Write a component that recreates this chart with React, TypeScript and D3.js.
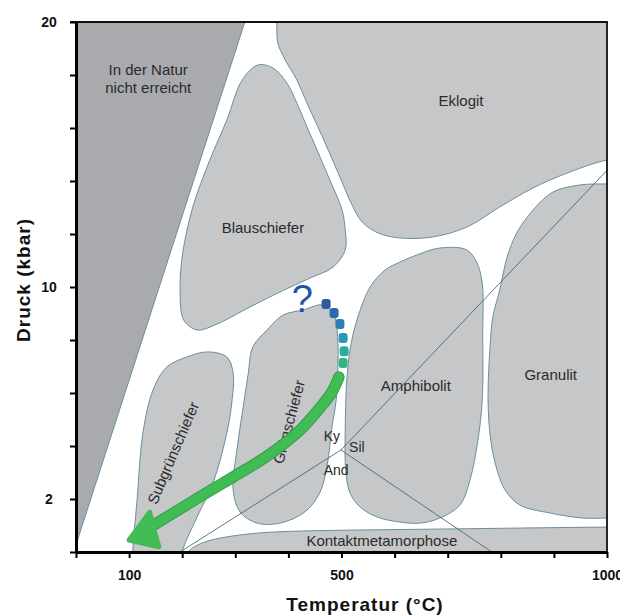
import { useEffect, useRef } from "react";
import * as d3 from "d3";

type Pt = [number, number];

// axis ticks
const xTicks = [0, 100, 200, 300, 400, 500, 600, 700, 800, 900, 1000];
const xLabels = [100, 500, 1000];
const yTicks = [0, 2, 4, 6, 8, 10, 12, 14, 16, 18, 20];
const yLabels = [2, 10, 20];

// facies fields, [temperature °C, pressure kbar]
const nichtErreicht: Pt[] = [[0, 20], [318, 20], [2, 0.4], [0, 0.4]];

const blauschiefer: Pt[] = [
  [343, 18.38], [371, 18.26], [397, 17.7], [416, 16.94], [435, 16.04], [454, 15.17],
  [478, 14.04], [501, 12.91], [507, 12.15], [507, 11.4], [484, 10.75], [441, 10.34],
  [384, 9.81], [328, 9.25], [262, 8.57], [228, 8.38], [203, 8.75], [196, 9.89],
  [201, 11.28], [220, 13.02], [252, 14.79], [284, 16.3], [313, 17.81],
];

const eklogit: Pt[] = [
  [375, 20.83], [1062, 20.83], [1062, 14.87], [1000, 14.79], [925, 14.3], [861, 13.74],
  [798, 13.02], [736, 12.26], [672, 11.89], [610, 11.85], [569, 12.04], [539, 12.45],
  [520, 13.09], [497, 14.15], [475, 15.17], [454, 16.11], [435, 16.94], [416, 17.81],
  [394, 18.57], [380, 19.21], [378, 20.0],
];

const granulit: Pt[] = [
  [1062, 13.89], [1000, 13.89], [949, 13.85], [898, 13.58], [861, 12.91], [830, 12.04],
  [812, 11.13], [798, 9.89], [785, 8.87], [780, 7.81], [776, 5.74], [781, 4.23],
  [793, 3.09], [808, 2.34], [836, 1.77], [893, 1.47], [955, 1.28], [1000, 1.28], [1062, 1.28],
];

const amphibolit: Pt[] = [
  [554, 10.0], [582, 10.64], [610, 10.94], [642, 11.21], [685, 11.47], [736, 11.4],
  [755, 10.91], [765, 10.15], [766, 8.26], [765, 5.74], [757, 4.23], [742, 2.72],
  [723, 1.77], [685, 1.28], [648, 1.09], [610, 1.13], [567, 1.32], [535, 1.7],
  [516, 2.23], [508, 3.09], [507, 4.6], [510, 6.49], [516, 7.62], [529, 8.75],
];

const gruenschiefer: Pt[] = [
  [333, 7.74], [360, 8.38], [390, 8.94], [427, 9.13], [465, 9.32], [486, 8.94],
  [493, 8.0], [493, 6.87], [490, 5.74], [482, 4.72], [473, 3.28], [459, 2.23],
  [431, 1.51], [384, 1.09], [341, 1.09], [309, 1.51], [296, 2.34], [303, 3.85],
  [314, 5.36], [324, 6.68],
];

const subgruenschiefer: Pt[] = [
  [107, -0.3], [107, 0.08], [115, 1.96], [126, 4.49], [145, 6.11], [171, 6.98],
  [209, 7.36], [247, 7.55], [284, 7.36], [296, 6.75], [294, 5.74], [284, 4.49],
  [258, 2.6], [228, 1.32], [200, 0], [200, -0.3],
];

const kontakt: Pt[] = [
  [205, -0.3], [215, 0.08], [243, 0.38], [284, 0.57], [346, 0.72], [422, 0.79],
  [535, 0.83], [704, 0.87], [1000, 0.94], [1062, 0.94], [1062, -0.3],
];

// Al2SiO5 triple point and its reaction lines
const triplePoint: Pt = [499, 3.85];
const reactionEnds: Pt[] = [[1000, 14.4], [196, 0], [783, 0]];

// P-T path
const pathDots: Pt[] = [[471, 9.36], [486, 9.02], [497, 8.6], [503, 8.08], [505, 7.58], [503, 7.13]];
const dotColors = ["#2b5c9f", "#2d68ad", "#2b7fb6", "#2a98b4", "#2aad9a", "#31b67f"];
const arrowShaft: Pt[] = [
  [495, 6.6], [482, 6.04], [459, 5.43], [422, 4.6], [360, 3.62], [296, 2.83],
  [233, 2.08], [183, 1.47], [143, 0.98],
];
const arrowHead: Pt[] = [[100, 0.45], [139, 1.5], [145, 0.95], [156, 0.2]];
const questionMark: Pt = [426, 9.06];

const labels: { text: string; t: number; p: number; size: number }[] = [
  { text: "In der Natur", t: 136, p: 18.0, size: 15 },
  { text: "nicht erreicht", t: 136, p: 17.32, size: 15 },
  { text: "Eklogit", t: 725, p: 16.83, size: 15 },
  { text: "Blauschiefer", t: 352, p: 12.04, size: 15 },
  { text: "Amphibolit", t: 640, p: 6.08, size: 15 },
  { text: "Granulit", t: 894, p: 6.49, size: 15 },
  { text: "Kontaktmetamorphose", t: 576, p: 0.23, size: 15 },
  { text: "Ky", t: 482, p: 4.19, size: 14 },
  { text: "Sil", t: 529, p: 3.77, size: 14 },
  { text: "And", t: 490, p: 2.91, size: 14 },
];
const rotatedLabels: { text: string; t: number; p: number; angle: number }[] = [
  { text: "Subgrünschiefer", t: 183, p: 3.74, angle: -67 },
  { text: "Grünschiefer", t: 401, p: 4.91, angle: -75 },
];

const FONT = "'Liberation Sans', Arial, sans-serif";

export default function App() {
  const svgRef = useRef<SVGSVGElement>(null);

  useEffect(() => {
    const width = 620;
    const height = 616;
    const margin = { top: 22, right: 13, bottom: 64, left: 76 };

    const svg = d3.select(svgRef.current);
    svg.selectAll("*").remove();

    const x = d3.scaleLinear().domain([0, 1000]).range([margin.left, width - margin.right]);
    const y = d3.scaleLinear().domain([0, 20]).range([height - margin.bottom, margin.top]);

    svg
      .append("defs")
      .append("clipPath")
      .attr("id", "plot-clip")
      .append("rect")
      .attr("x", x(0))
      .attr("y", y(20))
      .attr("width", x(1000) - x(0))
      .attr("height", y(0) - y(20));

    const plot = svg.append("g").attr("clip-path", "url(#plot-clip)");

    plot
      .append("rect")
      .attr("x", x(0))
      .attr("y", y(20))
      .attr("width", x(1000) - x(0))
      .attr("height", y(0) - y(20))
      .attr("fill", "#fff");

    const smooth = d3
      .line<Pt>()
      .x((d) => x(d[0]))
      .y((d) => y(d[1]))
      .curve(d3.curveCatmullRomClosed.alpha(0.5));
    const straight = d3
      .line<Pt>()
      .x((d) => x(d[0]))
      .y((d) => y(d[1]))
      .curve(d3.curveLinearClosed);

    plot
      .append("path")
      .attr("d", straight(nichtErreicht))
      .attr("fill", "#a8aaad")
      .attr("stroke", "#6f8e9c")
      .attr("stroke-width", 1);

    const fields = [blauschiefer, eklogit, granulit, amphibolit, gruenschiefer, subgruenschiefer, kontakt];
    plot
      .selectAll("path.field")
      .data(fields)
      .enter()
      .append("path")
      .attr("class", "field")
      .attr("d", (d) => smooth(d))
      .attr("fill", "#c5c7c9")
      .attr("stroke", "#6b8e9e")
      .attr("stroke-width", 1);

    plot
      .selectAll("line.reaction")
      .data(reactionEnds)
      .enter()
      .append("line")
      .attr("class", "reaction")
      .attr("x1", x(triplePoint[0]))
      .attr("y1", y(triplePoint[1]))
      .attr("x2", (d) => x(d[0]))
      .attr("y2", (d) => y(d[1]))
      .attr("stroke", "#4e6675")
      .attr("stroke-width", 0.9);

    // field labels
    svg
      .selectAll("text.label")
      .data(labels)
      .enter()
      .append("text")
      .attr("class", "label")
      .attr("x", (d) => x(d.t))
      .attr("y", (d) => y(d.p))
      .attr("text-anchor", "middle")
      .style("font-family", FONT)
      .style("font-size", (d) => `${d.size}px`)
      .attr("fill", "#2b2b2b")
      .text((d) => d.text);

    svg
      .selectAll("text.rlabel")
      .data(rotatedLabels)
      .enter()
      .append("text")
      .attr("class", "rlabel")
      .attr("transform", (d) => `translate(${x(d.t)},${y(d.p)}) rotate(${d.angle})`)
      .attr("text-anchor", "middle")
      .attr("dy", "0.35em")
      .style("font-family", FONT)
      .style("font-size", "15px")
      .attr("fill", "#2b2b2b")
      .text((d) => d.text);

    // P-T path arrow
    const shaft = d3
      .line<Pt>()
      .x((d) => x(d[0]))
      .y((d) => y(d[1]))
      .curve(d3.curveCatmullRom.alpha(0.5));

    svg
      .append("path")
      .attr("d", shaft(arrowShaft))
      .attr("fill", "none")
      .attr("stroke", "#2f9f45")
      .attr("stroke-width", 11.5)
      .attr("stroke-linecap", "round");
    svg
      .append("path")
      .attr("d", straight(arrowHead))
      .attr("fill", "#41bc55")
      .attr("stroke", "#41bc55")
      .attr("stroke-width", 5)
      .attr("stroke-linejoin", "round");
    svg
      .append("path")
      .attr("d", shaft(arrowShaft))
      .attr("fill", "none")
      .attr("stroke", "#41bc55")
      .attr("stroke-width", 9.5)
      .attr("stroke-linecap", "round");

    svg
      .selectAll("rect.dot")
      .data(pathDots)
      .enter()
      .append("rect")
      .attr("class", "dot")
      .attr("x", (d) => x(d[0]) - 4.5)
      .attr("y", (d) => y(d[1]) - 5)
      .attr("width", 9)
      .attr("height", 10)
      .attr("rx", 3)
      .attr("fill", (d, i) => dotColors[i]);

    svg
      .append("text")
      .attr("x", x(questionMark[0]))
      .attr("y", y(questionMark[1]))
      .attr("text-anchor", "middle")
      .style("font-family", FONT)
      .style("font-size", "38px")
      .attr("fill", "#1f55a6")
      .text("?");

    // frame
    svg
      .append("path")
      .attr("d", `M${x(0) - 6},${y(20)}H${x(1000)}V${y(0)}`)
      .attr("fill", "none")
      .attr("stroke", "#111")
      .attr("stroke-width", 1.8);

    // axes
    const xAxis = d3
      .axisBottom(x)
      .tickValues(xTicks)
      .tickSize(6)
      .tickSizeOuter(0)
      .tickPadding(12)
      .tickFormat((d) => (xLabels.includes(+d) ? String(d) : ""));
    const gx = svg.append("g").attr("transform", `translate(0,${y(0)})`).call(xAxis);

    const yAxis = d3
      .axisLeft(y)
      .tickValues(yTicks)
      .tickSize(6)
      .tickSizeOuter(0)
      .tickPadding(10)
      .tickFormat((d) => (yLabels.includes(+d) ? String(d) : ""));
    const gy = svg.append("g").attr("transform", `translate(${x(0)},0)`).call(yAxis);
    gy.selectAll(".tick text").attr("x", -27).attr("text-anchor", "middle");

    [gx, gy].forEach((g) => {
      g.select(".domain").attr("stroke", "#000").attr("stroke-width", 3);
      g.selectAll(".tick line").attr("stroke", "#000").attr("stroke-width", 2);
      g.selectAll(".tick text")
        .attr("fill", "#111")
        .style("font-family", FONT)
        .style("font-weight", "bold")
        .style("font-size", "14px");
    });

    svg
      .append("text")
      .attr("x", 365)
      .attr("y", 611)
      .attr("text-anchor", "middle")
      .style("font-family", FONT)
      .style("font-weight", "bold")
      .style("font-size", "19px")
      .style("letter-spacing", "1px")
      .attr("fill", "#111")
      .text("Temperatur (°C)");

    svg
      .append("text")
      .attr("transform", `translate(30,${(y(20) + y(0)) / 2 - 7}) rotate(-90)`)
      .attr("text-anchor", "middle")
      .style("font-family", FONT)
      .style("font-weight", "bold")
      .style("font-size", "19px")
      .style("letter-spacing", "1px")
      .attr("fill", "#111")
      .text("Druck (kbar)");
  }, []);

  return (
    <svg
      ref={svgRef}
      width={620}
      height={616}
      style={{ position: "absolute", left: 0, top: 0, background: "#fff" }}
    ></svg>
  );
}
